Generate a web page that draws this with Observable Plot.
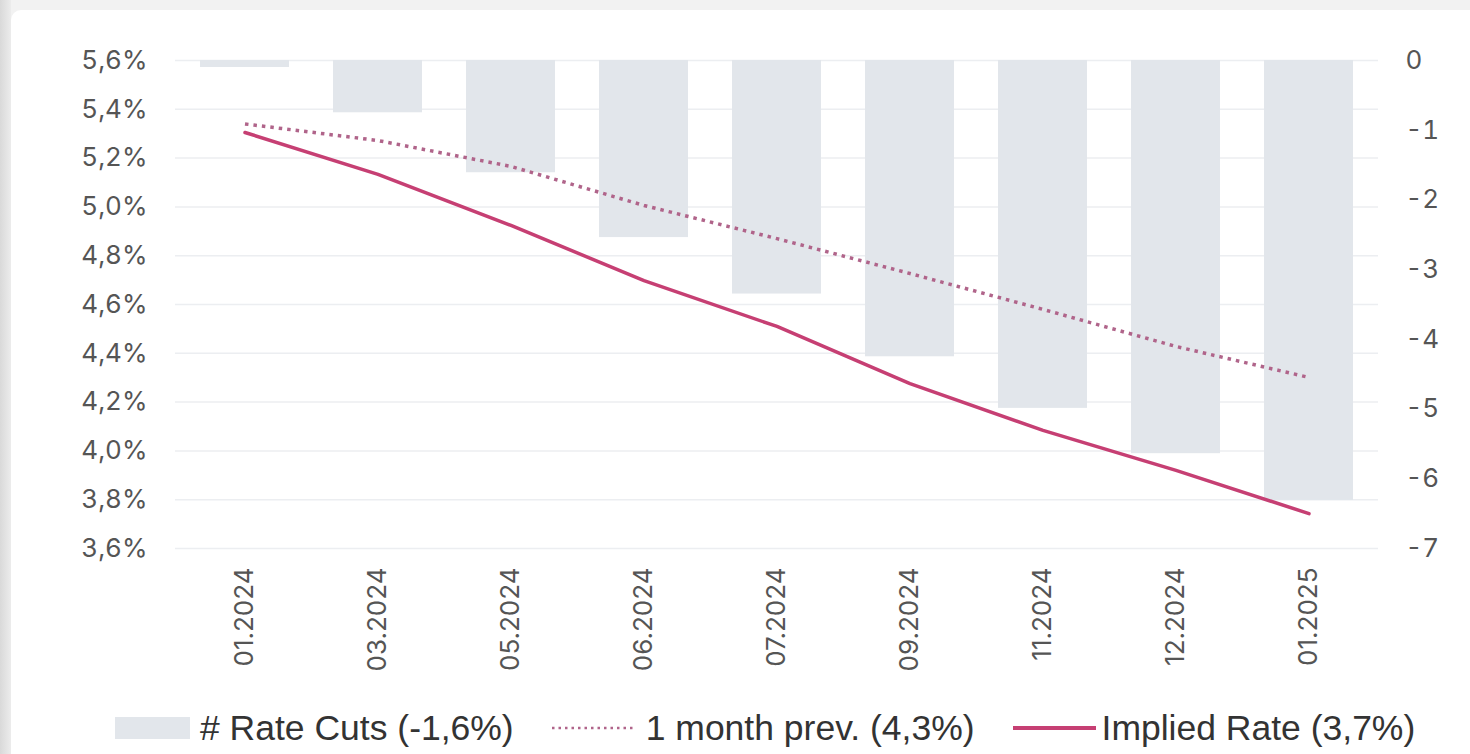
<!DOCTYPE html>
<html>
<head>
<meta charset="utf-8">
<script src="https://cdn.jsdelivr.net/npm/d3@7"></script>
<script src="https://cdn.jsdelivr.net/npm/@observablehq/plot@0.6"></script>
<style>
  html, body { margin: 0; padding: 0; }
  body { width: 1470px; height: 754px; background: #f2f2f2; position: relative; overflow: hidden; }
  #frame { position: absolute; left: 0; top: 0; width: 11px; height: 754px; background: linear-gradient(to right, #d9d9d9, #ececec); }
  #panel { position: absolute; left: 11px; top: 10px; right: 0; bottom: 0; background: #fff; border-top-left-radius: 10px; }
  #chart { position: absolute; left: 0; top: 0; }
  #legend { position: absolute; left: 115px; top: 708px; height: 40px; display: flex; align-items: center;
            font-family: "Liberation Sans", Arial, sans-serif; font-size: 35.5px; color: #333; white-space: nowrap; }
  #legend .item { display: flex; align-items: center; }
  #legend svg { display: block; }
</style>
</head>
<body>
<div id="frame"></div>
<div id="panel"></div>
<div id="chart"></div>
<div id="legend"></div>
<script>
// Meeting dates along the bottom axis
const dates = ["01.2024", "03.2024", "05.2024", "06.2024", "07.2024", "09.2024", "11.2024", "12.2024", "01.2025"];
// Cumulative number of 25bp rate cuts priced in (right axis)
const rateCuts = [-0.1, -0.75, -1.61, -2.54, -3.35, -4.25, -4.99, -5.64, -6.31];
// Market-implied policy rate, % (left axis)
const impliedRate = [5.305, 5.133, 4.924, 4.698, 4.51, 4.276, 4.084, 3.92, 3.743];
// Implied rate path as of one month earlier, % (left axis)
const prevMonth = [5.34, 5.272, 5.166, 5.006, 4.87, 4.727, 4.58, 4.428, 4.301];
// Axis ticks
const leftTicks = [5.6, 5.4, 5.2, 5.0, 4.8, 4.6, 4.4, 4.2, 4.0, 3.8, 3.6];
const rightTicks = [0, -1, -2, -3, -4, -5, -6, -7];
// Legend entries
const legendLabels = ["# Rate Cuts (-1,6%)", "1 month prev. (4,3%)", "Implied Rate (3,7%)"];

const barColor = "#e2e6eb";
const solidColor = "#c63f73";
const dottedColor = "#b0648a";

// The right axis (number of cuts) shares the plot's y scale through this mapping
const cutsToRate = d3.scaleLinear().domain([-7, 0]).range([3.6, 5.6]);

const data = dates.map((date, i) => ({
  date,
  cuts: rateCuts[i],
  implied: impliedRate[i],
  prev: prevMonth[i]
}));

const tickFont = {fontFamily: "Inter, 'Liberation Sans', sans-serif", fontSize: 26, fill: "#555"};

const chart = Plot.plot({
  width: 1470,
  height: 700,
  marginTop: 60,
  marginBottom: 152,
  marginLeft: 175,
  marginRight: 92,
  style: {background: "transparent", fontFamily: "Inter, 'Liberation Sans', sans-serif", fontSize: "26px", color: "#555"},
  x: {type: "band", domain: dates, paddingInner: 0.333, paddingOuter: 0.1667, axis: null, label: null},
  y: {domain: [3.6, 5.6], axis: null, label: null},
  marks: [
    Plot.gridY(leftTicks, {stroke: "#eceef1", strokeOpacity: 1, strokeWidth: 1.5}),
    Plot.barY(data, {x: "date", y1: () => cutsToRate(0), y2: d => cutsToRate(d.cuts), fill: barColor}),
    Plot.line(data, {x: "date", y: "prev", stroke: dottedColor, strokeWidth: 3.5, strokeDasharray: "3.5 5", strokeLinecap: "butt"}),
    Plot.line(data, {x: "date", y: "implied", stroke: solidColor, strokeWidth: 3.5}),
    Plot.axisY(leftTicks, {
      anchor: "left", tickSize: 0, tickPadding: 28, label: null, ...tickFont,
      tickFormat: d => d.toFixed(1).replace(".", ",") + "%"
    }),
    Plot.axisY(rightTicks.map(cutsToRate), {
      anchor: "right", tickSize: 0, tickPadding: 27, label: null, ...tickFont,
      tickFormat: d => String(Math.round(cutsToRate.invert(d)))
    }),
    Plot.axisX(dates, {anchor: "bottom", tickSize: 0, tickPadding: 19, tickRotate: -90, label: null, ...tickFont})
  ]
});
document.getElementById("chart").appendChild(chart);

// Legend below the chart
const legend = d3.select("#legend");
const swatches = [
  {w: 75, draw: s => s.append("rect").attr("width", 75).attr("height", 22).attr("y", 9).attr("fill", barColor), gapAfter: 10},
  {w: 82, draw: s => s.append("line").attr("x1", 0).attr("x2", 82).attr("y1", 20).attr("y2", 20)
      .attr("stroke", dottedColor).attr("stroke-width", 2.5).attr("stroke-dasharray", "2.5 4"), gapAfter: 12},
  {w: 83, draw: s => s.append("line").attr("x1", 0).attr("x2", 83).attr("y1", 20).attr("y2", 20)
      .attr("stroke", solidColor).attr("stroke-width", 4), gapAfter: 6}
];
legendLabels.forEach((label, i) => {
  const item = legend.append("div").attr("class", "item").style("margin-right", i < 2 ? "38px" : "0");
  const svg = item.append("svg").attr("width", swatches[i].w).attr("height", 40).style("margin-right", swatches[i].gapAfter + "px");
  swatches[i].draw(svg);
  item.append("span").text(label);
});
</script>
</body>
</html>
